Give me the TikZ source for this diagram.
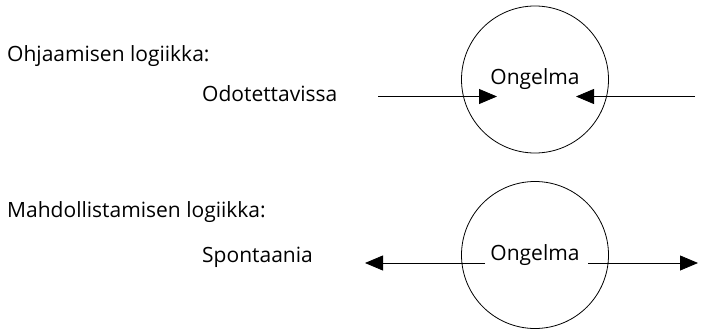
\documentclass[tikz,border=0pt]{standalone}
\usepackage{fontspec}
\setmainfont{Open Sans}
\usetikzlibrary{arrows.meta}
\begin{document}
\begin{tikzpicture}[x=1pt, y=-1pt,
    label/.style={anchor=base west, inner sep=0pt, font=\fontsize{21}{25}\selectfont},
    problem/.style={circle, draw, line width=0.8pt, minimum size=147pt, inner sep=0pt, font=\fontsize{21}{25}\selectfont},
    arr/.style={line width=0.8pt, -{Triangle[length=18pt, width=15pt]}}
]
\useasboundingbox (0,0) rectangle (701,329);

% Ohjaaminen
\node[label] (ohj) at (7,62) {Ohjaamisen logiikka:};
\node[label] (odo) at (202,101) {Odotettavissa};
\node[problem] (ong1) at (535,79.5) {\raisebox{-2.5pt}{Ongelma}};
\coordinate (in1) at (378,96.5);
\coordinate (tip1) at (497,96.5);
\coordinate (in2) at (695,96.5);
\coordinate (tip2) at (576,96.5);

% Mahdollistaminen
\node[label] (mah) at (7,217) {Mahdollistamisen logiikka:};
\node[label] (spo) at (202,262) {Spontaania};
\node[problem] (ong2) at (535,255) {\raisebox{3pt}{Ongelma}};
\coordinate (out1) at (485,263);
\coordinate (tip3) at (365,263);
\coordinate (out2) at (588,263);
\coordinate (tip4) at (698,263);

% Connections
\draw[arr] (in1) -- (tip1);
\draw[arr] (in2) -- (tip2);
\draw[arr] (out1) -- (tip3);
\draw[arr] (out2) -- (tip4);
\end{tikzpicture}
\end{document}
